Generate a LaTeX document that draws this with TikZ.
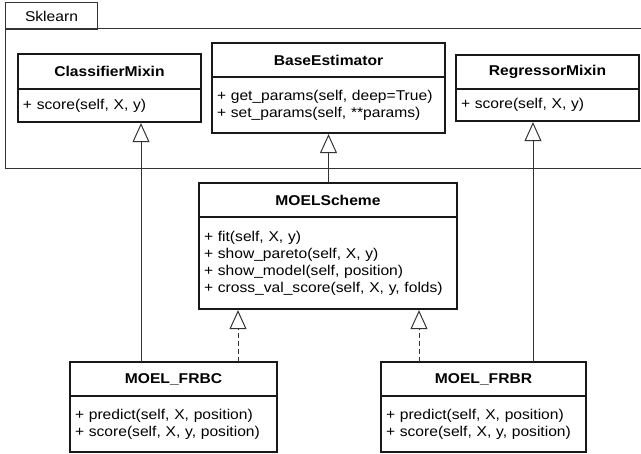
\documentclass[tikz,border=0pt]{standalone}
\usepackage{fontspec}
\setmainfont[FakeStretch=1.1]{Liberation Sans}
\usetikzlibrary{arrows.meta}
\definecolor{lc}{gray}{0.2}
\begin{document}
\begin{tikzpicture}[x=1pt,y=-1pt,
  txt/.style={font=\fontsize{14.2}{17}\selectfont},
  box/.style={draw=black!90, line width=2.2pt, inner sep=0pt, outer sep=0pt, anchor=north west},
  hdr/.style={box, font=\bfseries\fontsize{14.2}{17}\selectfont},
  bdy/.style={box, txt, align=left, inner xsep=5pt},
  inh/.style={draw=lc, line width=1pt, -{Triangle[open, length=19pt, width=17pt, line width=1pt]}},
  real/.style={dash pattern=on 5pt off 3pt}
]
\useasboundingbox (0,0) rectangle (641,454);
% package
\node[draw=lc, line width=1pt, minimum width=92, minimum height=27, anchor=north west, inner sep=0pt, txt] (tab) at (5,2) {Sklearn};
\draw[lc, line width=1pt] (641,29) -- (5,29) -- (5,169) -- (641,169);
% classes
\node[hdr, minimum width=183, minimum height=35] (cmH) at (18,54) {ClassifierMixin};
\node[bdy, text width=173, minimum height=33] (cmB) at (18,89) {+ score(self, X, y)};
\node[hdr, minimum width=233, minimum height=34] (beH) at (212,43) {BaseEstimator};
\node[bdy, text width=223, minimum height=56] (beB) at (212,77) {+ get\_params(self, deep=True)\\+ set\_params(self, **params)};
\node[hdr, minimum width=183, minimum height=34] (rmH) at (456,55) {RegressorMixin};
\node[bdy, text width=173, minimum height=32] (rmB) at (456,89) {+ score(self, X, y)};
\node[hdr, minimum width=258, minimum height=34] (msH) at (199,183) {MOELScheme};
\node[bdy, text width=248, minimum height=92] (msB) at (199,217) {+ fit(self, X, y)\\+ show\_pareto(self, X, y)\\+ show\_model(self, position)\\+ cross\_val\_score(self, X, y, folds)};
\node[hdr, minimum width=207, minimum height=34] (fcH) at (70,362) {MOEL\_FRBC};
\node[bdy, text width=197, minimum height=56] (fcB) at (70,396) {+ predict(self, X, position)\\+ score(self, X, y, position)};
\node[hdr, minimum width=205, minimum height=34] (frH) at (381,362) {MOEL\_FRBR};
\node[bdy, text width=195, minimum height=56] (frB) at (381,396) {+ predict(self, X, position)\\+ score(self, X, y, position)};
% connectors
\coordinate (cmtip) at (141,123.1);
\coordinate (betip) at (328.5,134.1);
\coordinate (rmtip) at (533,122.1);
\coordinate (ms1) at (238,310.1);
\coordinate (ms2) at (419,310.1);
\draw[inh] (cmtip |- fcH.north) -- (cmtip);
\draw[inh] (betip |- msH.north) -- (betip);
\draw[inh] (rmtip |- frH.north) -- (rmtip);
\draw[inh, real] (ms1 |- fcH.north) -- (ms1);
\draw[inh, real] (ms2 |- frH.north) -- (ms2);
\end{tikzpicture}
\end{document}
